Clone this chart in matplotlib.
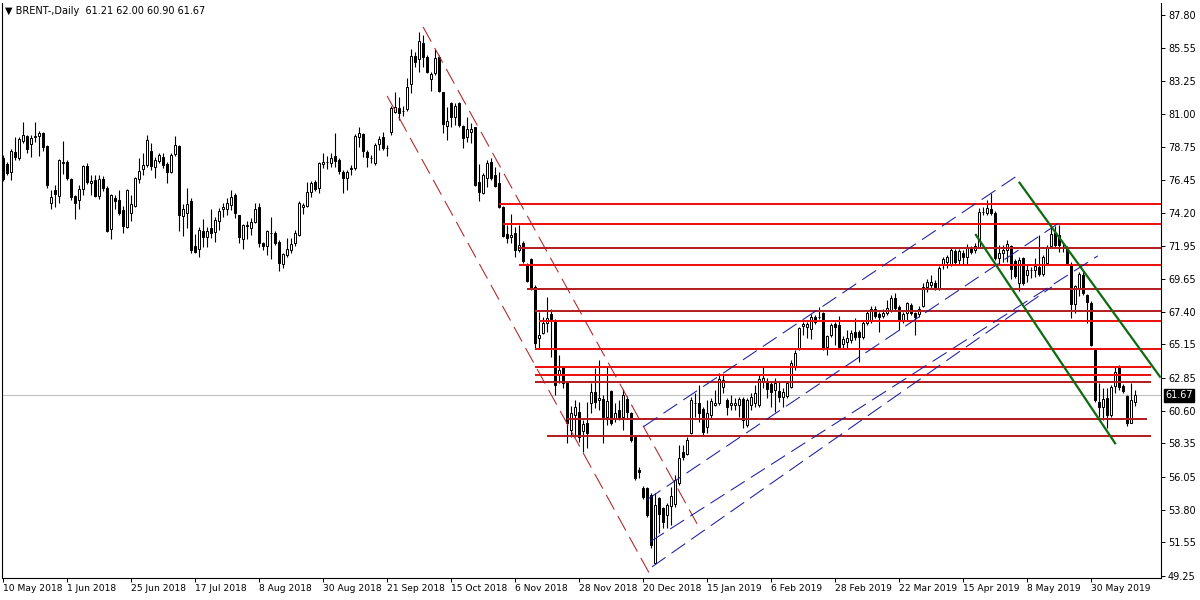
import matplotlib
matplotlib.use("Agg")
import numpy as np
import matplotlib.pyplot as plt

# daily BRENT candles (one value per bar, 10 May 2018 .. mid Jun 2019)
opens = [
    77.97, 77.56, 77.01, 78.38, 77.97, 79.14, 79.48, 78.93, 79.41, 79.48, 79.69, 78.80,
    74.88, 75.77, 75.36, 77.63, 77.70, 76.53, 75.36, 75.09, 75.84, 77.42, 76.25, 76.46,
    75.36, 76.53, 75.91, 73.09, 75.22, 75.09, 74.40, 73.23, 74.19, 74.67, 76.53, 77.21,
    77.49, 78.45, 77.35, 77.76, 78.04, 77.56, 77.01, 78.25, 78.80, 73.98, 74.19, 75.02,
    71.92, 71.72, 72.95, 72.54, 73.16, 72.89, 73.64, 74.47, 74.47, 74.74, 75.43, 74.05,
    72.40, 73.30, 73.16, 73.57, 74.60, 72.13, 71.92, 72.82, 72.82, 72.20, 70.69, 71.30,
    71.65, 72.13, 72.68, 74.60, 74.67, 75.63, 76.32, 75.91, 77.56, 77.68, 77.63, 78.11,
    77.83, 77.01, 76.60, 77.21, 77.28, 79.41, 79.62, 78.38, 77.99, 77.63, 78.93, 79.41,
    78.66, 79.76, 81.13, 81.41, 81.22, 81.34, 83.06, 84.98, 84.78, 85.87, 84.91, 83.40,
    83.81, 84.91, 82.51, 80.17, 81.75, 80.79, 81.75, 80.17, 79.41, 79.76, 80.10, 76.32,
    75.57, 76.60, 77.70, 76.80, 76.25, 74.60, 72.75, 72.54, 72.82, 71.65, 72.13, 70.62,
    71.03, 69.10, 65.60, 65.94, 66.63, 67.25, 66.84, 63.06, 63.61, 62.51, 59.28, 60.31,
    60.52, 59.21, 59.76, 61.13, 61.89, 61.34, 61.41, 60.17, 61.96, 60.03, 60.65, 60.17,
    61.41, 60.45, 58.80, 56.53, 55.29, 55.29, 54.81, 50.14, 54.60, 53.91, 53.43, 54.05,
    54.19, 55.63, 57.76, 57.63, 59.07, 61.13, 61.13, 60.72, 59.48, 60.31, 61.00, 61.13,
    62.23, 61.34, 61.00, 61.00, 61.00, 61.41, 59.62, 61.00, 61.13, 61.00, 62.58, 62.58,
    62.44, 62.03, 61.96, 61.55, 61.62, 62.23, 63.61, 64.91, 66.43, 66.36, 66.22, 67.04,
    67.06, 67.32, 64.98, 65.81, 66.56, 66.49, 65.19, 65.33, 65.46, 66.01, 66.01, 65.67,
    66.63, 66.84, 67.59, 67.25, 67.11, 67.32, 67.52, 68.35, 67.73, 66.84, 67.32, 67.87,
    67.32, 67.25, 67.80, 69.10, 69.24, 69.38, 69.04, 70.69, 70.82, 70.69, 71.58, 70.96,
    71.44, 71.17, 71.78, 71.65, 71.85, 74.26, 74.19, 74.47, 74.19, 71.10, 71.44, 71.65,
    71.92, 70.89, 69.38, 71.10, 69.93, 70.29, 70.27, 70.48, 70.00, 70.76, 71.92, 72.82,
    72.68, 71.87, 71.78, 70.69, 67.94, 69.04, 69.93, 68.56, 68.00, 64.77, 61.20, 60.86,
    61.48, 60.31, 62.30, 63.54, 62.30, 61.62, 59.76, 61.21,
]
highs = [
    78.18, 77.70, 78.59, 79.41, 79.41, 80.45, 79.55, 79.55, 80.45, 79.83, 79.76, 78.87,
    75.77, 76.12, 77.90, 79.14, 77.83, 76.60, 75.43, 76.12, 77.49, 77.63, 76.80, 76.80,
    76.80, 76.73, 76.05, 75.50, 75.43, 75.77, 74.67, 75.84, 75.43, 76.67, 77.97, 78.31,
    79.55, 79.00, 78.04, 78.31, 78.31, 77.70, 78.31, 79.48, 78.87, 74.81, 75.91, 75.22,
    72.75, 73.23, 73.78, 73.23, 74.47, 73.92, 74.53, 74.88, 75.22, 75.77, 75.57, 74.05,
    73.44, 73.64, 73.85, 74.88, 74.88, 72.20, 73.02, 73.92, 72.95, 72.34, 71.44, 72.47,
    72.47, 73.02, 75.02, 74.88, 76.32, 76.39, 76.46, 77.70, 78.31, 78.11, 78.31, 79.69,
    77.97, 77.15, 77.15, 77.49, 79.62, 80.10, 79.69, 78.52, 78.18, 79.00, 79.48, 79.76,
    78.87, 81.55, 82.51, 82.16, 81.55, 83.47, 85.46, 85.26, 86.63, 86.42, 85.05, 83.88,
    85.46, 85.05, 82.51, 81.48, 81.82, 81.75, 81.82, 80.24, 80.79, 80.38, 80.10, 77.56,
    76.94, 77.83, 77.97, 77.35, 77.01, 74.67, 73.37, 74.12, 73.23, 73.37, 72.27, 70.76,
    71.10, 69.24, 67.39, 67.04, 68.42, 67.59, 66.91, 64.43, 63.67, 62.51, 60.93, 61.34,
    61.20, 59.96, 61.20, 62.51, 63.54, 64.09, 61.68, 63.61, 62.03, 61.13, 61.34, 62.09,
    61.62, 60.52, 58.87, 56.73, 55.43, 55.36, 54.95, 54.95, 54.67, 53.98, 54.26, 55.36,
    56.18, 58.25, 58.25, 58.80, 61.55, 61.82, 62.37, 60.86, 61.34, 61.48, 62.03, 63.20,
    63.06, 61.48, 61.68, 61.48, 61.55, 61.55, 61.48, 61.82, 62.37, 63.06, 63.61, 62.85,
    62.64, 62.85, 62.58, 62.16, 62.64, 64.09, 64.77, 66.36, 66.70, 66.70, 67.25, 67.18,
    67.73, 67.39, 65.81, 66.63, 66.70, 67.11, 65.74, 66.15, 66.15, 66.97, 66.15, 66.84,
    67.46, 67.80, 67.80, 67.39, 67.59, 68.21, 68.56, 68.69, 67.87, 67.39, 68.07, 68.01,
    67.39, 67.80, 69.38, 69.65, 69.93, 69.59, 70.55, 71.17, 71.30, 71.78, 71.72, 71.72,
    71.65, 72.06, 71.92, 72.13, 74.53, 74.60, 75.09, 75.57, 74.33, 71.99, 71.99, 72.34,
    71.99, 71.03, 71.17, 71.17, 70.62, 70.48, 71.10, 72.68, 71.30, 71.99, 73.37, 73.30,
    73.37, 72.13, 71.92, 70.82, 69.24, 70.14, 70.14, 68.63, 68.14, 64.84, 62.51, 62.16,
    62.16, 62.37, 63.61, 63.74, 62.44, 61.68, 62.51, 62.00,
]
lows = [
    76.39, 76.80, 76.46, 77.83, 77.83, 79.00, 78.31, 78.04, 79.07, 78.11, 78.45, 75.91,
    74.47, 74.60, 74.88, 76.87, 76.46, 75.09, 73.78, 74.47, 75.43, 76.19, 75.43, 75.29,
    75.15, 75.70, 72.90, 72.40, 74.47, 74.05, 72.82, 73.16, 73.64, 74.60, 76.25, 76.80,
    77.35, 77.15, 76.60, 77.63, 77.28, 76.25, 76.94, 78.11, 72.95, 72.61, 73.16, 71.44,
    71.44, 71.17, 71.85, 71.85, 72.47, 72.20, 73.02, 73.92, 74.05, 74.40, 73.85, 72.13,
    71.72, 72.40, 72.68, 73.50, 71.85, 71.65, 71.30, 71.03, 71.99, 70.21, 70.41, 71.17,
    71.44, 71.92, 72.61, 74.12, 74.60, 75.29, 75.70, 75.57, 77.28, 77.21, 77.35, 77.35,
    76.87, 75.57, 75.77, 76.80, 77.15, 78.73, 78.04, 77.35, 77.63, 77.49, 78.52, 78.52,
    78.11, 79.55, 81.07, 80.58, 80.86, 81.20, 82.44, 84.23, 83.88, 84.23, 83.81, 82.58,
    83.68, 82.51, 79.69, 79.21, 80.10, 80.24, 80.10, 78.66, 79.07, 79.00, 76.05, 75.02,
    75.50, 75.98, 76.46, 75.98, 74.53, 72.54, 72.13, 72.13, 71.17, 71.51, 70.76, 69.45,
    68.90, 64.91, 64.91, 65.87, 66.01, 64.30, 61.68, 62.51, 62.16, 58.38, 58.80, 58.80,
    58.45, 57.76, 58.04, 60.45, 60.79, 60.65, 58.38, 59.62, 59.62, 59.83, 59.96, 59.28,
    60.10, 58.45, 55.84, 55.98, 54.53, 53.30, 51.17, 50.14, 52.20, 52.54, 52.54, 52.75,
    53.98, 55.50, 57.21, 57.56, 59.00, 60.17, 59.83, 58.93, 59.07, 60.10, 60.93, 61.00,
    61.82, 60.31, 60.65, 60.65, 60.17, 59.41, 59.48, 60.65, 60.86, 60.86, 62.16, 61.48,
    60.86, 60.52, 61.20, 60.86, 61.48, 62.16, 63.40, 64.77, 65.81, 65.60, 65.53, 66.56,
    66.91, 64.77, 64.43, 65.67, 65.12, 64.91, 64.91, 64.91, 65.26, 65.46, 63.95, 65.53,
    66.49, 66.63, 66.97, 66.01, 66.97, 67.18, 67.39, 67.52, 66.15, 66.63, 66.84, 67.18,
    65.81, 67.04, 67.73, 68.76, 69.04, 68.90, 68.90, 70.34, 70.41, 70.55, 70.62, 70.69,
    70.69, 70.69, 71.37, 71.44, 71.85, 74.05, 74.05, 74.05, 70.96, 70.62, 70.82, 70.82,
    69.65, 69.72, 68.83, 69.24, 69.45, 69.72, 69.79, 69.86, 69.86, 70.62, 71.85, 71.85,
    71.51, 71.51, 70.62, 66.97, 67.32, 68.49, 68.56, 66.63, 65.05, 61.20, 60.17, 59.96,
    59.41, 60.17, 61.82, 62.03, 61.82, 59.55, 59.72, 60.90,
]
closes = [
    76.53, 76.94, 78.45, 78.04, 79.28, 79.55, 78.59, 79.35, 79.45, 79.69, 78.73, 76.12,
    75.29, 75.50, 77.83, 77.66, 76.60, 75.29, 74.88, 75.84, 77.42, 76.32, 76.39, 75.36,
    76.53, 75.91, 72.95, 75.43, 75.02, 74.19, 73.30, 75.77, 74.81, 76.60, 77.08, 77.49,
    79.21, 77.42, 77.83, 78.18, 77.49, 77.01, 78.18, 78.87, 74.05, 74.47, 74.81, 71.65,
    71.51, 73.02, 72.54, 72.95, 72.82, 73.71, 74.33, 74.60, 74.88, 75.29, 74.19, 72.54,
    73.37, 73.33, 73.57, 74.47, 72.13, 71.92, 72.95, 72.80, 72.13, 70.76, 71.37, 71.72,
    72.06, 72.82, 74.88, 74.74, 75.63, 76.25, 75.84, 77.63, 77.70, 77.70, 77.97, 77.76,
    77.08, 76.60, 77.01, 77.28, 79.48, 79.69, 78.45, 78.04, 77.95, 78.87, 79.28, 78.66,
    78.64, 81.41, 81.48, 81.07, 81.20, 82.85, 84.98, 84.57, 86.01, 84.91, 83.88, 83.74,
    84.85, 82.58, 80.31, 80.52, 80.79, 81.55, 80.24, 79.35, 79.96, 79.96, 76.12, 75.63,
    76.80, 77.63, 76.60, 76.05, 74.60, 72.61, 72.47, 72.68, 71.65, 71.99, 70.89, 69.52,
    68.97, 65.26, 65.81, 66.63, 66.97, 66.91, 62.37, 63.40, 62.51, 59.76, 60.45, 60.86,
    58.80, 59.69, 59.07, 61.89, 61.20, 61.48, 60.17, 61.27, 59.76, 60.45, 60.17, 61.68,
    60.52, 58.59, 55.98, 56.39, 54.67, 53.43, 51.37, 54.12, 53.50, 52.95, 54.12, 54.74,
    55.84, 57.35, 57.42, 58.59, 61.34, 61.10, 60.45, 59.14, 60.45, 61.27, 61.13, 62.78,
    62.71, 60.86, 61.13, 61.13, 61.41, 59.96, 61.34, 61.55, 61.82, 62.78, 62.85, 62.09,
    61.89, 62.51, 61.55, 61.89, 62.51, 63.88, 64.57, 66.29, 66.56, 66.56, 67.04, 66.70,
    67.04, 64.91, 65.74, 66.49, 66.36, 64.98, 65.53, 65.60, 65.94, 65.67, 65.67, 66.63,
    67.32, 67.59, 67.11, 67.04, 67.32, 67.66, 68.35, 67.66, 66.84, 67.25, 68.01, 67.32,
    67.04, 67.59, 69.10, 69.45, 69.45, 69.10, 70.41, 71.03, 71.17, 71.65, 70.82, 71.58,
    71.17, 71.85, 71.51, 71.92, 74.26, 74.24, 74.53, 74.19, 71.10, 71.44, 71.65, 72.06,
    70.34, 69.86, 70.96, 69.38, 70.27, 70.27, 70.55, 70.00, 71.17, 71.85, 72.75, 71.99,
    71.99, 71.85, 70.76, 67.94, 69.17, 69.99, 68.69, 68.07, 65.12, 61.34, 60.86, 61.41,
    60.31, 62.23, 63.26, 62.23, 61.96, 59.76, 61.34, 61.67,
]

date_labels = ["10 May 2018", "1 Jun 2018", "25 Jun 2018", "17 Jul 2018", "8 Aug 2018",
               "30 Aug 2018", "21 Sep 2018", "15 Oct 2018", "6 Nov 2018", "28 Nov 2018",
               "20 Dec 2018", "15 Jan 2019", "6 Feb 2019", "28 Feb 2019", "22 Mar 2019",
               "15 Apr 2019", "8 May 2019", "30 May 2019"]
date_ticks = [16 * k for k in range(len(date_labels))]
price_ticks = [87.80, 85.55, 83.25, 81.00, 78.75, 76.45, 74.20, 71.95, 69.65, 67.40,
               65.15, 62.85, 60.60, 58.35, 56.05, 53.80, 51.55, 49.25]
last_price = 61.67

# horizontal support/resistance levels: price, first bar, last bar, dark shade
levels = [74.79, 73.45, 71.81, 70.61, 68.95, 67.42, 66.79, 64.87, 63.63, 63.08, 62.60, 60.01, 58.89]
level_start = [124, 125, 129, 129, 131, 133, 134, 133, 133, 133, 133, 141, 136]
level_end = [290, 290, 290, 290, 290, 290, 290, 290, 287, 287, 287, 286, 287]
level_dark = [False, False, True, False, True, True, False, False, False, False, True, True, True]

# trend lines as (bar, price) pairs
red_channel = [((105.1, 86.97), (173.6, 52.82)), ((96.1, 82.23), (162.3, 49.10))]
blue_channel = [((160.2, 59.50), (253.9, 76.80)), ((161.0, 54.47), (264.8, 73.64)),
                ((161.8, 51.58), (273.8, 71.24)), ((162.3, 49.86), (262.3, 69.11))]
green_lines = [((254.2, 76.27), (289.3, 62.94)), ((243.3, 72.68), (278.1, 58.36))]

o = np.array(opens)
c = np.array(closes)
h = np.maximum(np.array(highs), np.maximum(o, c))
l = np.minimum(np.array(lows), np.minimum(o, c))
x = np.arange(len(o))
up = c >= o

fig = plt.figure(figsize=(12, 6), dpi=100)
ax = fig.add_axes([2 / 1200, 22 / 600, 1159 / 1200, 575 / 600])

ax.axhline(last_price, color="#c0c0c0", lw=0.8, zorder=1)

ax.vlines(x, l, h, color="black", lw=0.8, zorder=3)
ax.bar(x[up], np.maximum((c - o)[up], 0.02), bottom=o[up], width=0.5,
       facecolor="white", edgecolor="black", lw=0.72, zorder=4)
ax.bar(x[~up], np.maximum((o - c)[~up], 0.02), bottom=c[~up], width=0.5,
       facecolor="black", edgecolor="black", lw=0.72, zorder=4)

for lev, s, e, dark in zip(levels, level_start, level_end, level_dark):
    ax.hlines(lev, s, e, color="#b52025" if dark else "#ee1111", lw=1.45, zorder=5)

for (x0, y0), (x1, y1) in red_channel:
    ax.plot([x0, x1], [y0, y1], color="#b22222", lw=0.75, ls=(0, (16, 7)), zorder=5)
for (x0, y0), (x1, y1) in blue_channel:
    ax.plot([x0, x1], [y0, y1], color="#1c1c9c", lw=0.75, ls=(0, (16, 7)), zorder=5)
for (x0, y0), (x1, y1) in green_lines:
    ax.plot([x0, x1], [y0, y1], color="#0f6a12", lw=1.6, zorder=5)

ax.set_xlim(-0.175, 289.575)
ax.set_ylim(49.10, 88.62)

ax.spines["top"].set_visible(False)
for side in ["left", "right", "bottom"]:
    ax.spines[side].set_linewidth(0.8)

ax.yaxis.tick_right()
ax.set_yticks(price_ticks)
ax.set_yticklabels([f"{p:.2f}" for p in price_ticks])
ax.set_xticks(date_ticks)
ax.set_xticklabels(date_labels, ha="left")
ax.tick_params(axis="x", length=3, width=0.7, pad=1.5, labelsize=6.6)
ax.tick_params(axis="y", length=3, width=0.7, pad=2, labelsize=7)

ax.annotate(f"{last_price:.2f}", xy=(1.0, last_price), xycoords=("axes fraction", "data"),
            xytext=(3, 0), textcoords="offset points", va="center", ha="left",
            fontsize=7, color="white",
            bbox=dict(boxstyle="square,pad=0.15", fc="black", ec="black"))

fig.text(5 / 1200, 1 - 11 / 600, "\u25bc BRENT-,Daily  61.21 62.00 60.90 61.67",
         fontsize=7, va="center", ha="left")

fig.savefig("out.png", dpi=100)
